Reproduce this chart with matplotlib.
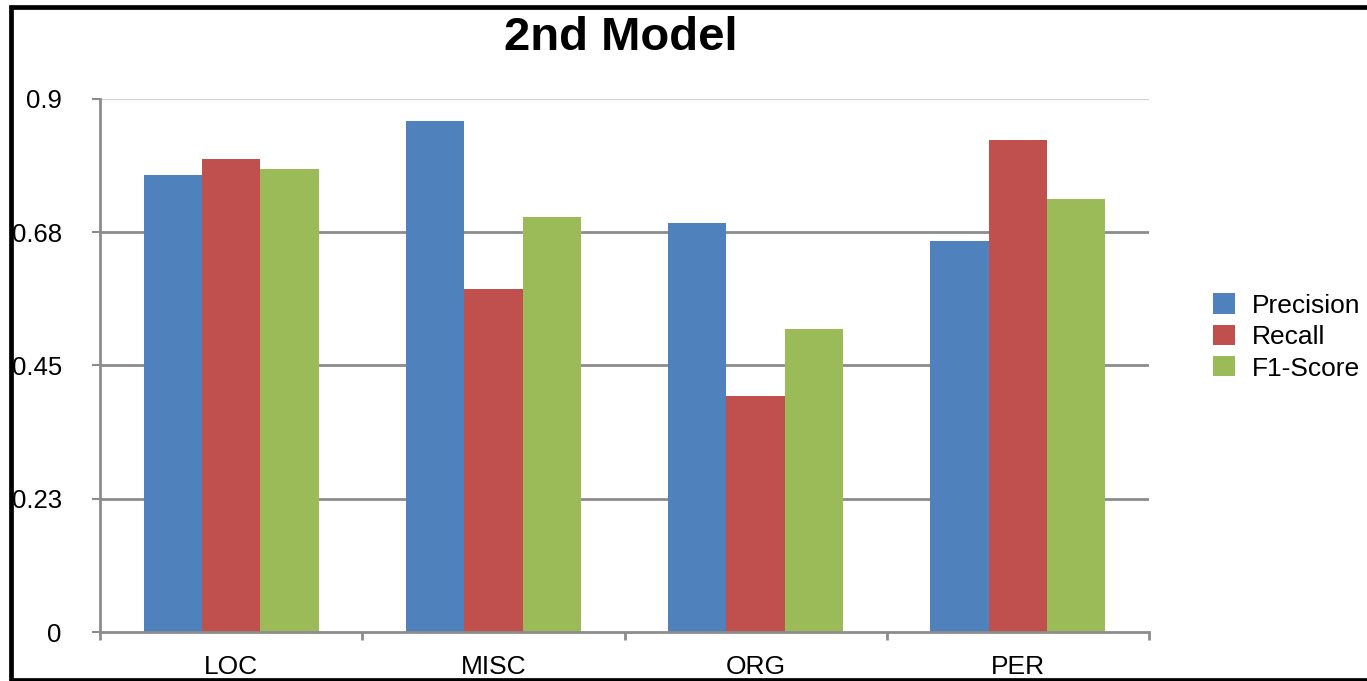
import matplotlib
matplotlib.use("Agg")
import matplotlib.pyplot as plt
from matplotlib.patches import Patch
from matplotlib.lines import Line2D
import numpy as np

plt.rcParams['font.family'] = ['Liberation Sans', 'DejaVu Sans']

categories = ["LOC", "MISC", "ORG", "PER"]
precision = [0.772, 0.863, 0.691, 0.660]
recall = [0.799, 0.579, 0.399, 0.831]
f1_score = [0.782, 0.701, 0.512, 0.731]
series_names = ["Precision", "Recall", "F1-Score"]
colors = ["#4F81BD", "#C0504D", "#9BBB59"]
ytick_values = [0, 0.225, 0.45, 0.675, 0.9]
ytick_labels = ["0", "0.23", "0.45", "0.68", "0.9"]

W, H = 1367, 681
fig = plt.figure(figsize=(W / 100, H / 100), dpi=100)
ax = fig.add_axes([100 / W, 1 - 632 / H, (1149 - 100) / W, (632 - 99) / H])

x = np.arange(len(categories))
bw = 1 / 4.5
for i, (vals, c) in enumerate(zip([precision, recall, f1_score], colors)):
    ax.bar(x + (i - 1) * bw, vals, width=bw, color=c, zorder=3, linewidth=0)

ax.set_xlim(-0.5, len(categories) - 0.5)
ax.set_ylim(0, 0.9)

grid_color = "#8C8C8C"
for v in ytick_values[1:-1]:
    ax.axhline(v, color=grid_color, lw=2.0, zorder=1)
ax.axhline(0.9, color="#D0D0D0", lw=1.5, zorder=1)

for side in ["top", "right"]:
    ax.spines[side].set_visible(False)
for side in ["left", "bottom"]:
    ax.spines[side].set_color(grid_color)
    ax.spines[side].set_linewidth(2.0)
    ax.spines[side].set_zorder(4)

ax.set_yticks(ytick_values)
ax.set_yticklabels(ytick_labels, fontsize=18.5)
ax.tick_params(axis="y", length=5.5, width=1.5, color=grid_color, pad=22)

ax.set_xticks(x)
ax.set_xticklabels(categories, fontsize=19)
ax.tick_params(axis="x", which="major", length=0, pad=16.5)
ax.set_xticks(np.arange(len(categories) + 1) - 0.5, minor=True)
ax.tick_params(axis="x", which="minor", length=6, width=2.0, color=grid_color)

fig.text(621 / W, 1 - 38 / H, "2nd Model", fontsize=34, fontweight="bold",
         ha="center", va="center")

handles = [Patch(facecolor=c, edgecolor="none") for c in colors]
fig.legend(handles, series_names, loc="center left",
           bbox_to_anchor=(1213 / W, 1 - 337 / H), frameon=False,
           fontsize=19, borderpad=0, borderaxespad=0,
           handlelength=0.83, handleheight=0.8, handletextpad=0.66,
           labelspacing=0.27)

# outer frame on the left, top and bottom
frame = Line2D([1.2, 11 / W, 11 / W, 1.2],
               [1 - 6.5 / H, 1 - 6.5 / H, 1 - 679.5 / H, 1 - 679.5 / H],
               transform=fig.transFigure, color="black", lw=3.4,
               solid_joinstyle="miter")
fig.add_artist(frame)

fig.savefig("out.png", dpi=100, facecolor="white")
